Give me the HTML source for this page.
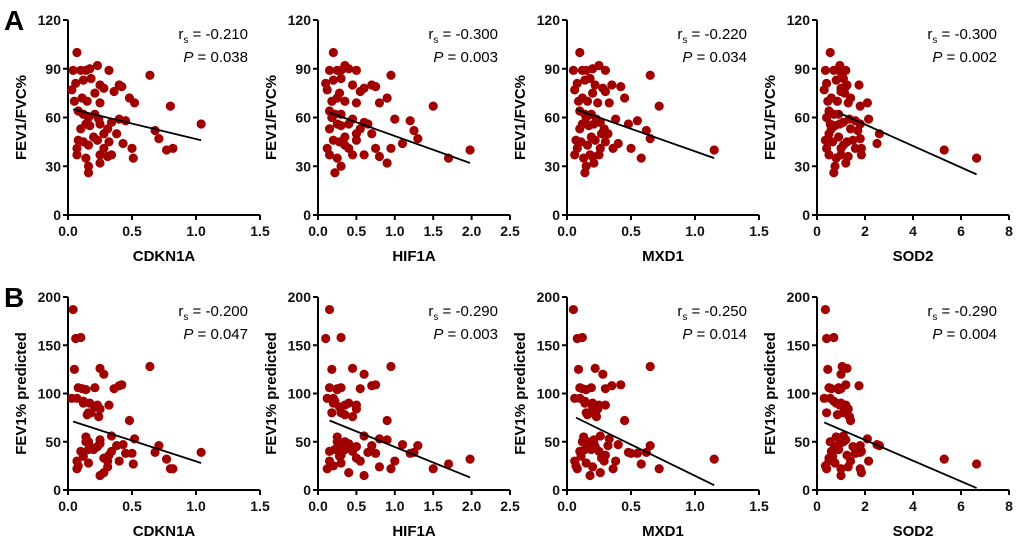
<!DOCTYPE html>
<html><head><meta charset="utf-8"><style>
body{margin:0;background:#fff;}
svg{display:block;font-family:"Liberation Sans",Arial,sans-serif;}
</style></head><body>
<svg id="fig" width="1020" height="538" viewBox="0 0 1020 538">
<text x="4" y="30" font-size="28" font-weight="bold">A</text>
<text x="4" y="307" font-size="28" font-weight="bold">B</text>
</svg>
<script>
const genes=["CDKN1A","HIF1A","MXD1","SOD2"];
const xMax=[1.5,2.5,1.5,8];
const xTicksC=[["0.0","0.5","1.0","1.5"],["0.0","0.5","1.0","1.5","2.0","2.5"],["0.0","0.5","1.0","1.5"],["0","2","4","6","8"]];
const rsA=["-0.210","-0.300","-0.220","-0.300"];
const pA=["0.038","0.003","0.034","0.002"];
const rsB=["-0.200","-0.290","-0.250","-0.290"];
const pB=["0.047","0.003","0.014","0.004"];
const fitA=[[0.04,65,1.04,46],[0.15,63,1.98,32],[0.07,65,1.15,35],[0.9,63,6.65,25]];
const fitB=[[0.04,71,1.04,28],[0.15,72,1.98,13],[0.07,75,1.15,5],[0.3,70,6.65,2]];
const yTicksA=[0,30,60,90,120];
const yTicksB=[0,50,100,150,200];
const xCDKN1A=[0.07,0.04,0.10,0.14,0.17,0.23,0.32,0.06,0.12,0.18,0.25,0.28,0.03,0.11,0.05,0.15,0.21,0.25,0.40,0.42,0.36,0.48,0.52,0.64,0.80,0.08,0.12,0.21,0.24,0.16,0.40,0.45,0.34,0.14,0.17,0.25,0.31,0.10,0.68,0.71,0.38,1.04,0.08,0.12,0.16,0.07,0.23,0.28,0.32,0.25,0.31,0.34,0.07,0.14,0.16,0.16,0.25,0.43,0.50,0.51,0.77,0.82,0.28,0.20];
const xHIF1A=[0.2,0.15,0.3,0.25,0.4,0.35,0.5,0.1,0.2,0.3,0.45,0.6,0.12,0.25,0.18,0.35,0.28,0.5,0.7,0.75,0.55,0.9,0.8,0.95,1.5,0.15,0.22,0.3,0.45,0.18,1.0,1.2,0.6,0.25,0.3,0.4,0.55,0.15,1.25,1.3,0.7,0.65,0.2,0.28,0.35,0.12,0.5,0.4,0.3,0.6,0.8,0.45,0.15,0.25,0.3,0.22,0.9,1.1,0.75,1.7,1.98,0.95,0.5,0.35];
const xMXD1=[0.1,0.05,0.12,0.15,0.2,0.25,0.3,0.08,0.14,0.18,0.22,0.28,0.06,0.12,0.09,0.16,0.2,0.24,0.35,0.42,0.3,0.45,0.33,0.65,0.72,0.1,0.14,0.19,0.23,0.15,0.38,0.55,0.26,0.12,0.17,0.21,0.29,0.1,0.62,0.65,0.32,0.48,0.07,0.11,0.16,0.08,0.22,0.26,0.3,0.18,0.2,0.25,0.06,0.13,0.15,0.14,0.21,0.4,0.5,0.58,1.15,0.36,0.27,0.19];
const xSOD2=[0.55,0.35,0.7,0.9,1.0,0.95,1.2,0.4,0.8,1.1,1.25,1.0,0.3,0.6,0.45,0.85,1.15,1.3,1.75,1.2,1.0,1.4,2.1,1.05,1.8,0.5,0.7,0.9,1.35,0.4,2.15,1.6,1.1,0.55,0.75,0.95,1.4,0.6,1.7,1.8,2.6,1.8,0.35,0.65,1.1,0.4,1.5,1.85,1.25,1.0,1.3,1.85,0.5,0.8,0.75,0.7,1.2,2.5,1.6,6.65,5.3,1.0,0.5,0.9];
const yFEV1FVC=[100,89,89,89,90,92,89,81,83,84,80,78,77,72,70,70,75,69,80,79,76,72,69,86,67,64,62,62,59,60,59,58,57,56,55,56,53,53,52,47,50,56,46,45,43,41,46,41,45,37,36,37,37,35,30,26,32,44,41,35,40,41,50,48];
const yFEV1pred=[95,187,158,104,90,88,88,157,90,80,126,120,95,105,125,78,86,84,108,109,105,72,53,128,22,106,92,106,76,80,30,38,56,50,45,48,30,40,39,46,46,39,25,35,50,22,45,18,36,15,24,40,30,55,28,42,52,47,38,27,32,22,33,42];

const NS="http://www.w3.org/2000/svg";
const svg=document.getElementById("fig");
const xs=[xCDKN1A,xHIF1A,xMXD1,xSOD2];
const colX=[68,318,567,817];
const W=192;
function mk(tag,attrs,parent){const e=document.createElementNS(NS,tag);for(const k in attrs)e.setAttribute(k,attrs[k]);(parent||svg).appendChild(e);return e;}

function panel(row,c){
  const top=row===0?20:297, bot=row===0?215:490;
  const yMax=row===0?120:200;
  const yT=row===0?yTicksA:yTicksB;
  const ys=row===0?yFEV1FVC:yFEV1pred;
  const fit=row===0?fitA[c]:fitB[c];
  const x0=colX[c];
  const sx=v=>x0+v/xMax[c]*W;
  const sy=v=>bot-v/yMax*(bot-top);
  const g=mk("g",{});
  
  
  const ax=mk("path",{d:`M${x0},${top}V${bot}H${x0+W}`,stroke:"#000","stroke-width":2,fill:"none"},g);
  
  
  yT.forEach(t=>{
    const y=sy(t);
    mk("line",{x1:x0-5,x2:x0,y1:y,y2:y,stroke:"#000","stroke-width":2},g);
    const tx=mk("text",{x:x0-7,y:y+5,"text-anchor":"end","font-size":14,"font-weight":"bold",fill:"#111"},g);
    tx.textContent=t;
    
    
  });
  xTicksC[c].forEach((lab,i,arr)=>{
    const x=x0+i/(arr.length-1)*W;
    mk("line",{x1:x,x2:x,y1:bot,y2:bot+5,stroke:"#000","stroke-width":2},g);
    const tx=mk("text",{x:x,y:bot+21,"text-anchor":"middle","font-size":14,"font-weight":"bold",fill:"#111"},g);
    tx.textContent=lab;
    
    
  });
  const xt=mk("text",{x:x0+W/2,y:bot+46,"text-anchor":"middle","font-size":15,"font-weight":"bold"},g);
  xt.textContent=genes[c];
  
  
  const cy=(top+bot)/2;
  const yt=mk("text",{x:x0-42,y:cy,"text-anchor":"middle","font-size":15,"font-weight":"bold",transform:`rotate(-90 ${x0-42} ${cy})`},g);
  yt.textContent=row===0?"FEV1/FVC%":"FEV1% predicted";
  
  
  const xv=xs[c];
  for(let i=0;i<xv.length;i++){
    const p=mk("circle",{cx:sx(xv[i]),cy:sy(ys[i]),r:4.6,fill:"#a00000"},g);
    
    
  }
  const ln=mk("line",{x1:sx(fit[0]),y1:sy(fit[1]),x2:sx(fit[2]),y2:sy(fit[3]),stroke:"#000","stroke-width":1.8},g);
  
  
  const rx=x0+180;
  const t1=mk("text",{x:rx,y:top+19,"text-anchor":"end","font-size":15},g);
  t1.innerHTML=`r<tspan font-size="10" dy="4">s</tspan><tspan dy="-4"> = ${row===0?rsA[c]:rsB[c]}</tspan>`;
  
  
  const t2=mk("text",{x:rx,y:top+42,"text-anchor":"end","font-size":15},g);
  t2.innerHTML=`<tspan font-style="italic">P</tspan> = ${row===0?pA[c]:pB[c]}`;
  
  
}
for(let r=0;r<2;r++)for(let c=0;c<4;c++)panel(r,c);
</script>
</body></html>
